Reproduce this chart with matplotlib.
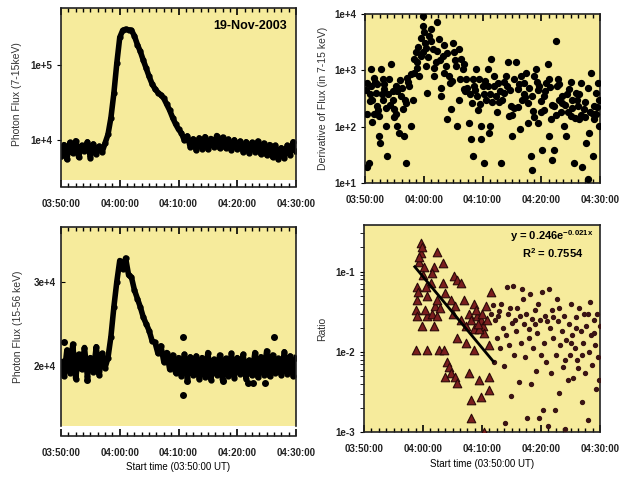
import numpy as np
import matplotlib.pyplot as plt
from matplotlib.ticker import MultipleLocator, FixedLocator, NullLocator, LogLocator, NullFormatter

plt.rcParams['font.family'] = ['Liberation Sans', 'DejaVu Sans']

# minutes after 03:50:00
tick_pos = [0, 10, 20, 30, 40]
tick_lab = ["03:50:00", "04:00:00", "04:10:00", "04:20:00", "04:30:00"]
cadence = 0.5  # minutes between light-curve samples

# Panel 1: photon flux 7-15 keV
flux_lo = [6200, 8800, 5600, 9400, 6800, 9900, 6000, 8600, 7200, 9600, 5900, 9000, 6600, 8400, 7000, 9200,
           12000, 20000, 42000, 105000, 230000, 285000, 295000, 290000, 285000, 240000,
           185000, 150000, 115000, 90000, 70000, 56000, 48000, 43000, 40000, 36000,
           30000, 25000, 20000, 16500, 14000, 12500, 10000, 11500, 8200, 10500,
           7400, 10800, 7800, 11200, 7600, 10600, 8200, 11600, 7900, 11000, 8000, 10400,
           7400, 10200, 7600, 9800, 7000, 9600, 6800, 9400, 7100, 9800, 6600, 9200,
           6400, 8800, 6000, 8600, 5600, 8000, 5800, 8600, 6500, 9600, 7200]

# Panel 3: photon flux 15-56 keV
flux_hi = [20500, 18800, 21900, 19200, 22600, 18500, 21400, 19600, 22200, 18700, 21000, 19300, 22300, 18900, 21500, 19800,
           21000, 23500, 27000, 30000, 32500, 31500, 32800, 30800, 30500, 29000,
           28000, 27000, 25800, 25000, 24200, 23000, 22800, 21500, 22400, 20500,
           21600, 19600, 21300, 19200, 21000, 18800, 21400, 18600, 21100, 18900,
           21200, 18500, 21000, 18700, 21600, 18400, 20800, 19000, 21300, 18300, 20900, 18800,
           21500, 18600, 21000, 19100, 21400, 18500, 20700, 18900, 21600, 18700, 21100, 19000,
           21800, 18800, 21300, 19200, 20900, 18900, 21700, 19100, 21200, 18800, 21000]
out_t = [20.8, 20.8, 36.2, 32.7, 31.9, 34.8, 27.6, 21.5, 0.5, 4.5]
out_v = [16600, 23400, 23400, 18000, 18000, 18000, 18200, 18200, 22800, 18400]

# Panel 2: derivative of flux (7-15 keV)
der_t = [0.4, 0.6, 0.3, 0.4, 1.0, 1.25, 1.0, 1.5, 1.8, 2.1, 2.4, 2.4, 2.5, 2.7, 3.0, 3.2, 3.5, 3.8,
         4.1, 4.4, 4.7, 4.9, 5.2, 5.5, 5.8, 6.1, 6.4, 6.6, 6.9, 7.2, 7.5, 7.8, 8.1, 8.4, 8.6, 8.9,
         9.2, 9.5, 9.8, 9.9, 10.1, 10.2, 9.9, 10.3, 10.6, 10.9, 11.2, 11.5, 11.8, 12.0, 12.3, 12.6,
         12.9, 13.2, 13.5, 13.8, 14.0, 14.3, 14.6, 14.9, 15.2, 15.5, 15.7, 16.0, 16.3, 16.6, 16.9,
         17.2, 17.7, 18.0, 18.3, 18.3, 18.6, 18.9, 19.1, 19.4, 19.7, 19.7, 20.0, 20.3, 20.6, 20.9,
         21.1, 21.3, 21.4, 21.7, 22.0, 22.3, 22.6, 23.1, 23.4, 23.7, 24.0, 24.3, 24.5, 24.8, 25.1,
         25.4, 25.7, 26.0, 26.3, 26.5, 26.8, 27.1, 27.4, 27.7, 28.2, 28.4, 28.5, 28.8, 29.1, 29.4,
         29.7, 29.9, 30.2, 30.5, 30.8, 31.1, 31.4, 31.6, 31.9, 32.1, 32.2, 32.5, 32.8, 33.1, 33.4,
         33.6, 33.9, 34.2, 34.5, 34.8, 35.1, 35.3, 35.6, 35.9, 36.2, 36.5, 36.8, 37.0, 37.3, 37.6,
         37.9, 38.2, 38.5, 38.8, 39.0, 39.3, 39.6, 39.9,
         22.5, 23.0, 24.2, 25.0, 26.0, 27.0, 27.8, 28.8, 29.5, 30.5, 31.5, 32.5, 33.0, 34.0, 35.0,
         35.8, 36.5, 37.5, 38.0, 38.8, 39.5, 21.0, 20.2, 19.2, 18.2, 17.0, 16.0, 14.5, 13.0, 1.5,
         2.0, 3.5, 4.0, 5.0, 6.0, 7.0, 0.8, 3.0, 5.5, 1.2,
         0.2, 0.9, 1.7, 2.2, 2.9, 3.3, 4.3, 4.8, 5.3, 6.3, 6.8, 7.3, 7.9, 8.3, 8.8, 9.1,
         9.6, 10.4, 10.8, 11.3, 11.7, 12.2, 12.8, 13.4, 13.9, 14.8, 15.4, 16.2, 16.8, 17.4,
         17.9, 18.8, 19.5, 20.4, 21.2, 21.9, 22.8, 23.6, 24.6, 25.3, 26.2, 27.2, 27.9, 28.6,
         29.3, 30.0, 30.7, 31.3, 31.8, 32.7, 33.5, 34.4, 35.2, 36.0, 36.7, 37.4, 38.3, 38.9,
         39.4, 39.8]
der_v = [19, 23, 166, 600, 525, 300, 1050, 740, 400, 234, 155, 68, 51, 1050, 300, 460, 102, 30,
         690, 1300, 300, 205, 525, 102, 78, 350, 205, 68, 23, 740, 525, 102, 300, 910, 2090, 1380,
         790, 1820, 9300, 6200, 4700, 3100, 2090, 1200, 400, 4100, 5400, 2400, 790, 1380, 7100, 3600,
         350, 1820, 2750, 1200, 135, 790, 205, 3100, 2090, 1200, 102, 2400, 1590, 1050, 460,
         690, 118, 59, 30, 690, 525, 1050, 350, 690, 59, 102, 525, 23, 300, 1050,
         78, 102, 1590, 270, 790, 350, 600, 23, 300, 400, 790, 1380, 155, 234, 68,
         690, 1380, 460, 89, 790, 300, 600, 910, 118, 30, 17, 350, 790, 1050, 118,
         525, 178, 39, 350, 600, 1300, 68, 135, 26, 39, 234, 3300, 690, 300, 178,
         350, 102, 68, 178, 460, 155, 300, 23, 400, 234, 135, 600, 19, 205, 51,
         11.5, 78, 910, 30, 135, 400, 600, 102,
         180, 420, 520, 160, 220, 380, 260, 150, 440, 200, 500, 160, 560, 240, 620,
         140, 380, 150, 480, 170, 220, 520, 380, 200, 260, 420, 300, 600, 480, 170,
         560, 210, 380, 150, 680, 260, 380, 700, 420, 120,
         450, 280, 620, 200, 380, 560, 240, 420, 170, 480, 300, 620, 850, 1600, 1100, 2600,
         3800, 2500, 1700, 3300, 1100, 2200, 1500, 900, 2000, 640, 1500, 700, 1300, 480,
         380, 450, 250, 640, 380, 520, 270, 620, 450, 210, 560, 330, 480, 190,
         620, 290, 430, 700, 240, 520, 260, 380, 210, 300, 160, 270, 180, 230,
         170, 300]

# Panel 4: ratio, flare phase (triangles) and later phase (dots)
tri_t = [9.6, 9.7, 9.3, 10.2, 9.0, 8.9, 8.8, 9.0, 8.75, 12.4, 13.3, 11.9, 11.6, 11.3, 10.5, 10.7,
         10.7, 11.6, 12.1, 12.4, 13.3, 13.8, 10.7, 12.7, 13.6, 14.1, 14.4, 13.8, 14.7, 15.5, 15.8,
         15.3, 15.8, 16.4, 14.7, 15.5, 15.0, 16.4, 16.9, 17.2, 17.8, 18.1, 18.6, 19.2, 19.8, 20.1,
         20.3, 18.6, 19.5, 17.8, 18.1, 18.2, 19.8, 19.5, 20.3, 21.2, 21.2, 21.5, 21.2, 20.9, 20.6,
         17.2, 18.6, 15.8, 11.9, 12.4, 9.9, 9.4, 9.8, 10.0, 9.2, 10.4, 12.9, 19.0, 20.0, 19.4]
tri_v = [0.23, 0.17, 0.13, 0.115, 0.065, 0.044, 0.033, 0.028, 0.0105, 0.178, 0.127, 0.115, 0.095,
         0.072, 0.065, 0.049, 0.028, 0.03, 0.037, 0.044, 0.072, 0.054, 0.0105, 0.0105, 0.0105,
         0.0075, 0.0065, 0.0049, 0.0054, 0.0049, 0.0041, 0.087, 0.079, 0.072, 0.044, 0.037, 0.03,
         0.025, 0.044, 0.021, 0.03, 0.025, 0.04, 0.028, 0.025, 0.021, 0.017, 0.019, 0.019, 0.0054,
         0.0025, 0.0015, 0.0027, 0.0045, 0.001, 0.0049, 0.0033, 0.056, 0.012, 0.025, 0.037,
         0.0127, 0.0105, 0.015, 0.021, 0.028, 0.021, 0.15, 0.2, 0.09, 0.055, 0.033, 0.035,
         0.033, 0.03, 0.022]
dot_t = [21.8, 22.2, 22.5, 22.8, 23.0, 23.3, 23.5, 23.7, 24.0, 24.2, 24.4, 24.6, 24.9, 25.1, 25.3,
         25.5, 25.8, 26.0, 26.2, 26.4, 26.6, 26.9, 27.1, 27.3, 27.5, 27.7, 27.9, 28.1, 28.3, 28.5,
         28.7, 28.9, 29.1, 29.3, 29.5, 29.7, 29.9, 30.1, 30.3, 30.5, 30.7, 30.9, 31.1, 31.3, 31.5,
         31.7, 31.9, 32.1, 32.3, 32.5, 32.7, 32.9, 33.1, 33.3, 33.5, 33.7, 33.9, 34.1, 34.3, 34.5,
         34.7, 34.9, 35.1, 35.3, 35.5, 35.7, 35.9, 36.1, 36.3, 36.5, 36.7, 36.9, 37.1, 37.3, 37.5,
         37.7, 37.9, 38.1, 38.3, 38.5, 38.7, 38.9, 39.1, 39.3, 39.5, 39.7, 39.9, 40.0,
         21.5, 22.0, 22.7, 23.9, 24.8, 25.6, 26.7, 28.0, 29.0, 30.0, 31.0, 32.0, 33.0, 34.0, 35.0,
         36.0, 37.0, 38.0, 39.0]
dot_v = [0.038, 0.025, 0.015, 0.032, 0.011, 0.04, 0.02, 0.0067, 0.016, 0.065, 0.03, 0.012, 0.0028,
         0.023, 0.066, 0.009, 0.018, 0.035, 0.0042, 0.028, 0.013, 0.045, 0.022, 0.0085, 0.03, 0.0015,
         0.019, 0.052, 0.004, 0.026, 0.011, 0.033, 0.0058, 0.017, 0.04, 0.0015, 0.025, 0.055, 0.0019,
         0.013, 0.028, 0.0075, 0.0012, 0.06, 0.02, 0.0055, 0.033, 0.015, 0.0019, 0.009, 0.045, 0.024,
         0.0031, 0.012, 0.018, 0.0065, 0.028, 0.0011, 0.014, 0.0045, 0.022, 0.009, 0.039, 0.016,
         0.0047, 0.011, 0.027, 0.008, 0.0062, 0.035, 0.018, 0.0024, 0.013, 0.03, 0.0055, 0.021,
         0.0014, 0.01, 0.042, 0.016, 0.0068, 0.025, 0.012, 0.0034, 0.03, 0.0085, 0.0045, 0.021,
         0.03, 0.0075, 0.028, 0.0013, 0.035, 0.025, 0.06, 0.015, 0.022, 0.009, 0.024, 0.027, 0.035,
         0.008, 0.013, 0.02, 0.009, 0.03, 0.017]
fit_t = [8.6, 21.9]
fit_v = [0.115, 0.0076]

bg = "#F6EB9C"
tick_font = dict(fontsize=7, fontweight="bold", color="#222222")


def style_time_axis(ax, offset, top_ticks=True, show_label=False):
    # move the spine first: set_position resets the ticks
    ax.spines["bottom"].set_position(("outward", offset))
    ax.set_xlim(0, 40)
    ax.xaxis.set_major_locator(FixedLocator(tick_pos))
    ax.xaxis.set_minor_locator(MultipleLocator(1.25))
    ax.set_xticklabels(tick_lab, **tick_font)
    ax.tick_params(axis="x", which="major", direction="in", length=5, width=1.2, top=top_ticks, pad=9)
    ax.tick_params(axis="x", which="minor", direction="in", length=3, width=1.0, top=top_ticks)
    for s in ax.spines.values():
        s.set_linewidth(1.2)
        s.set_color("#222222")
    if show_label:
        ax.set_xlabel("Start time (03:50:00 UT)", fontsize=7, labelpad=3)


fig = plt.figure(figsize=(6.34, 4.80), dpi=100)

t_curve = np.arange(len(flux_lo)) * cadence

# top left
ax1 = fig.add_axes([0.0962, 0.625, 0.3707, 0.358], facecolor=bg)
style_time_axis(ax1, 5)
ax1.plot(t_curve, flux_lo, "-o", color="black", lw=4, ms=3.5)
ax1.set_yscale("log")
ax1.set_ylim(3000, 5.6e5)
ax1.yaxis.set_major_locator(FixedLocator([1e4, 1e5]))
ax1.yaxis.set_minor_locator(NullLocator())
ax1.set_yticklabels(["1e+4", "1e+5"], **tick_font)
ax1.tick_params(axis="y", direction="out", length=3)
ax1.set_ylabel("Photon Flux (7-15keV)", fontsize=7.5, color="#333333", labelpad=6)
ax1.text(0.96, 0.93, "19-Nov-2003", transform=ax1.transAxes, ha="right", va="top",
         fontsize=9, fontweight="bold")

# top right
ax2 = fig.add_axes([0.5757, 0.619, 0.3707, 0.352], facecolor=bg)
style_time_axis(ax2, 0)
ax2.scatter(der_t, der_v, s=18, color="black", zorder=3)
ax2.set_yscale("log")
ax2.set_ylim(10, 1e4)
ax2.yaxis.set_major_locator(FixedLocator([10, 100, 1000, 10000]))
ax2.yaxis.set_minor_locator(NullLocator())
ax2.set_yticklabels(["1e+1", "1e+2", "1e+3", "1e+4"], **tick_font)
ax2.tick_params(axis="y", direction="out", length=3)
ax2.set_ylabel("Derivative of Flux (in 7-15 keV)", fontsize=7.5, color="#333333", labelpad=4)

# bottom left
ax3 = fig.add_axes([0.0962, 0.1125, 0.3707, 0.415], facecolor=bg)
style_time_axis(ax3, 7, show_label=True)
ax3.plot(t_curve, flux_hi, "-o", color="black", lw=4, ms=3.5)
ax3.scatter(out_t, out_v, s=16, color="black")
ax3.set_ylim(12900, 36500)
ax3.yaxis.set_major_locator(FixedLocator([2e4, 3e4]))
ax3.set_yticklabels(["2e+4", "3e+4"], **tick_font)
ax3.tick_params(axis="y", direction="in", length=3)
ax3.set_ylabel("Photon Flux (15-56 keV)", fontsize=7.5, color="#333333", labelpad=8)

# bottom right
ax4 = fig.add_axes([0.5742, 0.1, 0.3722, 0.431], facecolor=bg)
style_time_axis(ax4, 0, top_ticks=False, show_label=True)
ax4.scatter(dot_t, dot_v, s=8, color="#3A1414", zorder=3)
ax4.scatter(tri_t, tri_v, s=38, marker="^", facecolor="#7A1E1E", edgecolor="#2A0808",
            linewidth=0.8, zorder=4)
ax4.plot(fit_t, fit_v, color="black", lw=2, zorder=5)
ax4.set_yscale("log")
ax4.set_ylim(1e-3, 0.38)
ax4.yaxis.set_major_locator(FixedLocator([1e-3, 1e-2, 1e-1]))
ax4.yaxis.set_minor_locator(LogLocator(base=10, subs=np.arange(2, 10)))
ax4.yaxis.set_minor_formatter(NullFormatter())
ax4.set_yticklabels(["1e-3", "1e-2", "1e-1"], **tick_font)
ax4.tick_params(axis="y", which="both", direction="out", length=3)
ax4.set_ylabel("Ratio", fontsize=7.5, color="#333333", labelpad=6)
ax4.text(0.97, 0.985, r"y = 0.246e$^{\mathregular{-0.021x}}$", transform=ax4.transAxes,
         ha="right", va="top", fontsize=8, fontweight="bold")
ax4.text(0.93, 0.90, r"R$^{\mathregular{2}}$ = 0.7554", transform=ax4.transAxes,
         ha="right", va="top", fontsize=8, fontweight="bold")

fig.savefig("out.png", dpi=100)
